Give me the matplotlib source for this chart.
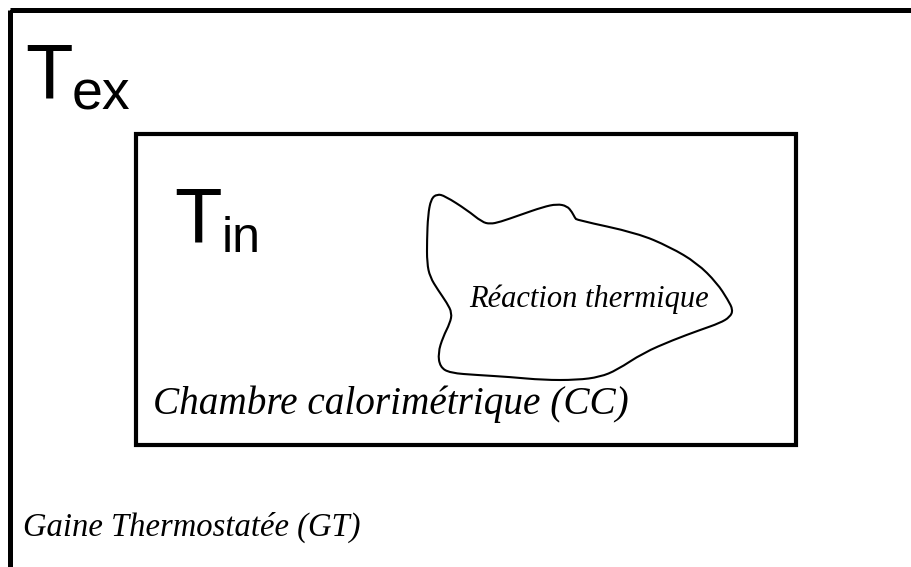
import numpy as np
import matplotlib.pyplot as plt
from matplotlib.patches import Rectangle, PathPatch
from matplotlib.path import Path

# pixel coordinates (origin top-left), figure is 912x567
W, H = 912, 567

# outer box (Gaine) - only top and left edges visible
outer_xy = (10.5, 9.5)
# inner box (Chambre calorimetrique)
inner_x = [136, 796]
inner_y = [134, 445]

# blob outline control points (traced)
blob_x = [431, 437, 445, 467, 482, 490, 500, 520, 543, 557, 567, 572, 575,
          577, 637, 670, 697, 717, 728, 733, 730, 720, 700, 673, 643, 617,
          600, 577, 543, 510, 477, 450, 440, 438, 443, 450, 452, 447, 438,
          430, 427, 427, 428]
blob_y = [199, 194, 196, 210, 222, 224, 222, 215, 207, 204, 206, 212, 218,
          220, 233, 247, 263, 283, 300, 310, 317, 323, 330, 340, 353, 370,
          377, 380, 380, 377, 375, 373, 367, 353, 337, 323, 313, 303, 290,
          277, 263, 240, 215]

labels = ["Réaction thermique", "Chambre calorimétrique (CC)",
          "Gaine Thermostatée (GT)"]

fig = plt.figure(figsize=(W / 100, H / 100), dpi=100)
ax = fig.add_axes([0, 0, 1, 1])
ax.set_xlim(0, W)
ax.set_ylim(H, 0)
ax.axis('off')

ax.add_patch(Rectangle(outer_xy, 2000, 2000, fill=False, lw=3.6,
                       ec='black', joinstyle='miter'))
ax.add_patch(Rectangle((inner_x[0], inner_y[0]), inner_x[1] - inner_x[0],
                       inner_y[1] - inner_y[0], fill=False, lw=3.0,
                       ec='black', joinstyle='miter'))

# smooth closed curve through midpoints, traced points as quadratic controls
pts = np.column_stack([blob_x, blob_y]).astype(float)
n = len(pts)
mids = (pts + np.roll(pts, -1, axis=0)) / 2
verts = [mids[-1]]
codes = [Path.MOVETO]
for i in range(n):
    verts += [pts[i], mids[i]]
    codes += [Path.CURVE3, Path.CURVE3]
ax.add_patch(PathPatch(Path(verts, codes), fill=False, lw=1.5, ec='black'))

sans = 'Liberation Sans'
serif = 'Liberation Serif'

ax.text(25, 98, 'T', fontsize=56, family=sans, va='baseline')
ax.text(72, 110, 'ex', fontsize=40, family=sans, va='baseline')
ax.text(174, 242, 'T', fontsize=56, family=sans, va='baseline')
ax.text(222, 252, 'in', fontsize=36, family=sans, va='baseline')

ax.text(469, 307, labels[0], fontsize=22, family=serif, style='italic',
        va='baseline')
ax.text(153, 414, labels[1], fontsize=28.3, family=serif, style='italic',
        va='baseline')
ax.text(23, 536, labels[2], fontsize=23.5, family=serif, style='italic',
        va='baseline')

plt.savefig('out.png', dpi=100, facecolor='white')
